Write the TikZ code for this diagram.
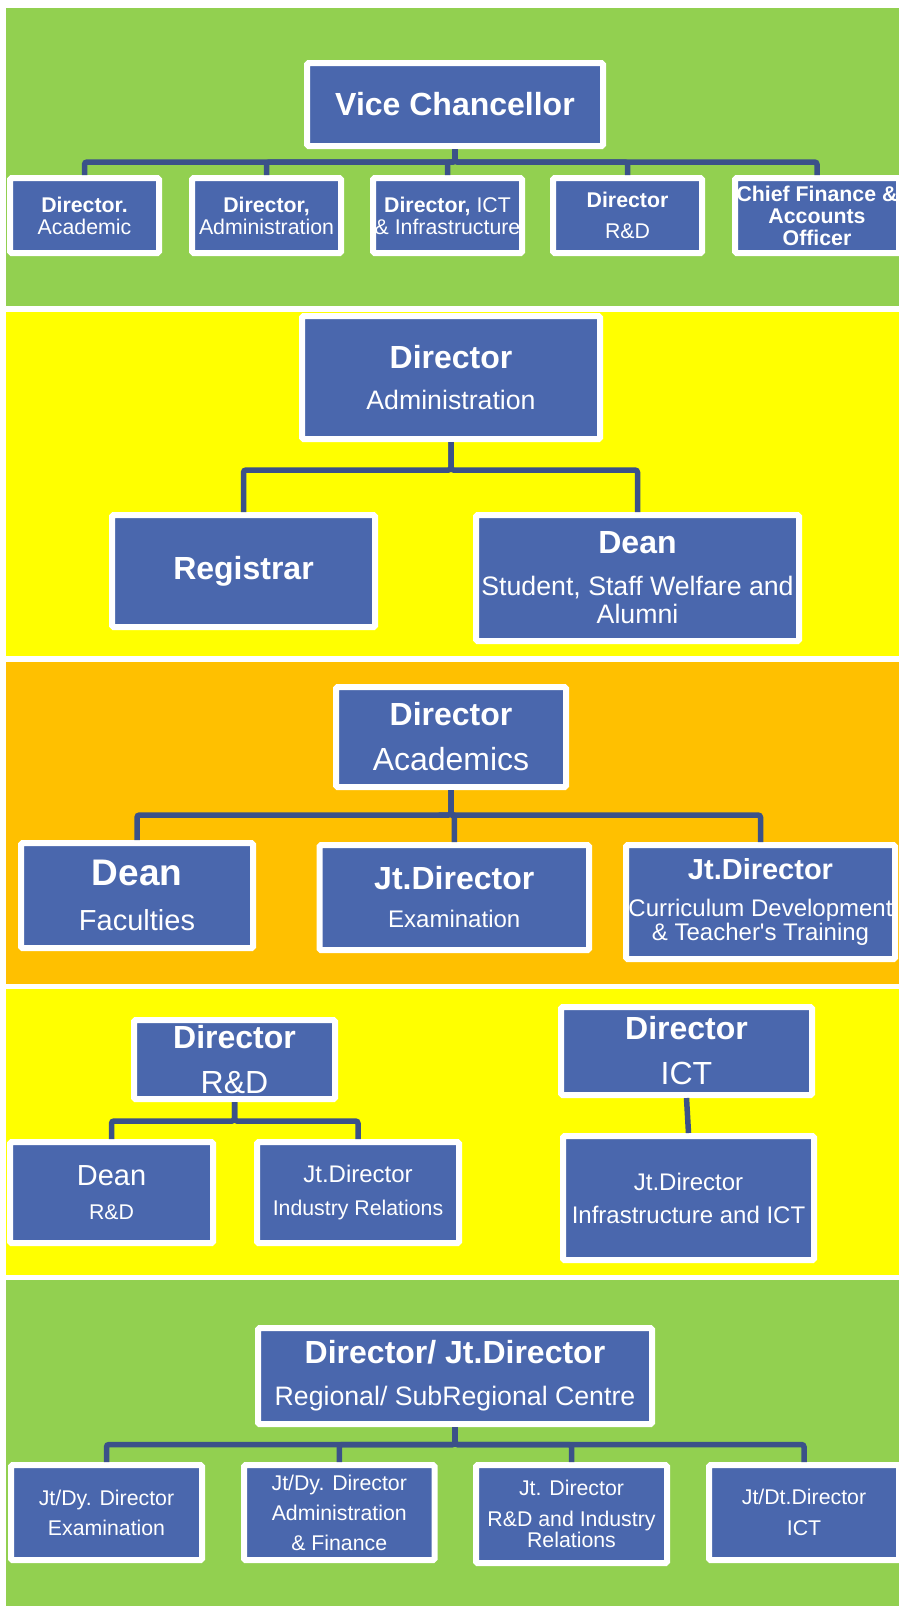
\documentclass[tikz,border=0pt]{standalone}
\usepackage{fontspec}
\setmainfont{Liberation Sans}
\definecolor{pgreen}{HTML}{92D050}
\definecolor{pyellow}{HTML}{FFFF00}
\definecolor{porange}{HTML}{FFC000}
\definecolor{boxblue}{HTML}{4A67AD}
\definecolor{connblue}{HTML}{3B5189}
\newcommand\bsz[1]{\fontsize{#1}{#1}\selectfont\bfseries}
\newcommand\rsz[1]{\fontsize{#1}{#1}\selectfont}
\newcommand\straightap{\XeTeXglyph\XeTeXcharglyph"27\relax}
\tikzset{
  box/.style={rectangle, fill=boxblue, draw=white, line width=6pt, text=white,
    inner sep=0pt, outer sep=3pt, align=center, rounded corners=1.5pt},
  conn/.style={draw=connblue, line width=5.5pt, rounded corners=2.5pt}
}
\newcommand\orgbox[7]{\node[box, font=#6, minimum width={#4-#2-6}, minimum height={#5-#3-6}] (#1) at ({(#2+#4)/2},{(#3+#5)/2}) {#7};}
\begin{document}
\begin{tikzpicture}[x=1pt,y=-1pt]
\useasboundingbox (0,0) rectangle (899,1606);
\clip (0,0) rectangle (899,1606);
\fill[white] (0,0) rectangle (899,1606);
% panels
\fill[pgreen] (6,8) rectangle (899,306);
\fill[pyellow] (6,312) rectangle (899,656);
\fill[porange] (6,662) rectangle (899,984);
\fill[pyellow] (6,989) rectangle (899,1275);
\fill[pgreen] (6,1280) rectangle (899,1606);

% panel 1
\orgbox{vc}{304}{60}{606}{149}{\bsz{32}}{Vice Chancellor}
\orgbox{c1}{7}{175}{162}{256}{\fontsize{21.3}{22}\selectfont}{\textbf{Director.}\\Academic}
\orgbox{c2}{189}{175}{344}{256}{\fontsize{21.3}{22}\selectfont}{\textbf{Director,}\\Administration}
\orgbox{c3}{370}{175}{525}{256}{\fontsize{21.3}{22}\selectfont}{\textbf{Director,} ICT\\\& Infrastructure}
\orgbox{c4}{550}{175}{705}{256}{\fontsize{21.3}{22}\selectfont}{\textbf{Director}\\[9pt]R\&D}
\orgbox{c5}{732}{175}{902}{256}{\fontsize{21.3}{22}\selectfont\bfseries}{Chief Finance \&\\Accounts\\Officer}
\coordinate (b1) at (0,162);
\foreach \c in {c1,c2,c3,c4,c5} \draw[conn] (vc.south) -- (vc.south |- b1) -| (\c.north);

% panel 2
\orgbox{da}{299}{313}{603}{442}{\rsz{26.7}}{{\bsz{32}Director}\\[15pt]Administration}
\orgbox{reg}{109}{512}{378}{630}{\bsz{32}}{Registrar}
\orgbox{dean}{473}{512}{802}{644}{\fontsize{26.7}{28}\selectfont}{{\bsz{32}Dean}\\[14pt]Student, Staff Welfare and\\Alumni}
\coordinate (b2) at (0,470);
\foreach \c in {reg,dean} \draw[conn] (da.south) -- (da.south |- b2) -| (\c.north);

% panel 3
\orgbox{acad}{333}{684}{569}{790}{\rsz{32}}{{\bfseries Director}\\[13pt]Academics}
\orgbox{deanf}{18}{840}{256}{951}{\rsz{29}}{{\bsz{37}Dean}\\[16pt]Faculties}
\orgbox{exam}{316.5}{842}{592}{953}{\rsz{24}}{{\bsz{32}Jt.Director}\\[14pt]Examination}
\orgbox{curr}{623}{842}{898}{962}{\rsz{24}}{{\bsz{29}Jt.Director}\\[13pt]Curriculum Development\\\& Teacher\straightap s Training}
\coordinate (b3) at (0,815);
\foreach \c in {deanf,exam,curr} \draw[conn] (acad.south) -- (acad.south |- b3) -| (\c.north);

% panel 4
\orgbox{drd}{131}{1017}{338}{1102}{\rsz{32}}{{\bfseries Director}\\[13pt]R\&D}
\orgbox{deanrd}{7}{1139}{216}{1246}{\rsz{21.3}}{{\rsz{29}Dean}\\[13pt]R\&D}
\orgbox{ir}{254}{1139}{462}{1246}{\rsz{21.3}}{{\rsz{24}Jt.Director}\\[12pt]Industry Relations}
\coordinate (b4) at (0,1121);
\foreach \c in {deanrd,ir} \draw[conn] (drd.south) -- (drd.south |- b4) -| (\c.north);
\orgbox{dict}{558}{1004}{815}{1098}{\rsz{32}}{{\bfseries Director}\\[13pt]ICT}
\orgbox{infra}{560}{1133}{817}{1263}{\fontsize{24}{33}\selectfont}{Jt.Director\\Infrastructure and ICT}
\draw[conn] (dict.south) -- (infra.north);

% panel 5
\orgbox{rc}{255}{1325}{655}{1427}{\rsz{26.7}}{{\bsz{32}Director/ Jt.Director}\\[15pt]Regional/ SubRegional Centre}
\orgbox{d1}{8}{1462}{205}{1563}{\fontsize{21.3}{30}\selectfont}{Jt/Dy. Director\\Examination}
\orgbox{d2}{241}{1462}{437.5}{1563}{\fontsize{21.3}{30}\selectfont}{Jt/Dy. Director\\Administration\\\& Finance}
\orgbox{d3}{473}{1462}{670}{1566}{\rsz{21.3}}{Jt. Director\\[10pt]R\&D and Industry\\Relations}
\orgbox{d4}{706}{1462}{902}{1563}{\fontsize{21.3}{31}\selectfont}{Jt/Dt.Director\\ICT}
\coordinate (b5) at (0,1444.5);
\foreach \c in {d1,d2,d3,d4} \draw[conn] (rc.south) -- (rc.south |- b5) -| (\c.north);
\end{tikzpicture}
\end{document}
